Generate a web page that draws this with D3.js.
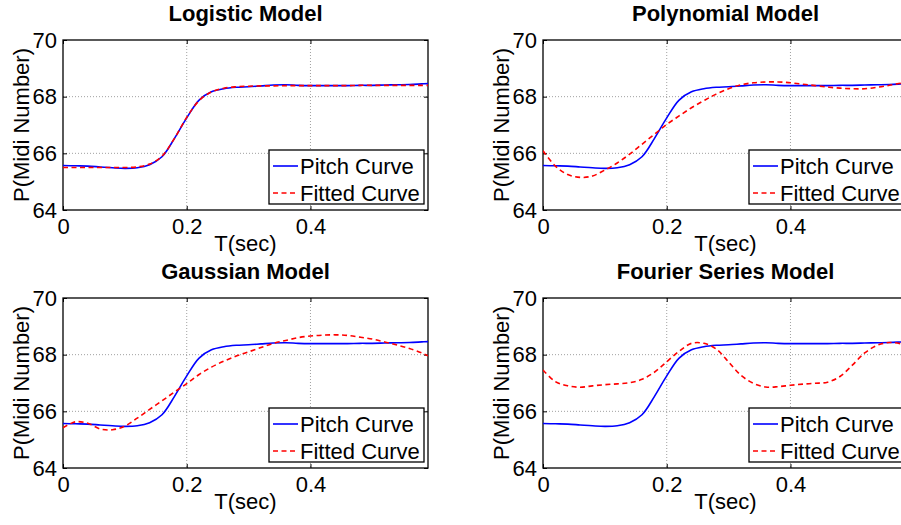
<!DOCTYPE html>
<html>
<head>
<meta charset="utf-8">
<script src="https://cdn.jsdelivr.net/npm/d3@7"></script>
<style>
  body { margin: 0; background: #fff; }
  svg text { font-family: "Liberation Sans", Arial, Helvetica, sans-serif; }
</style>
</head>
<body>
<div id="chart"></div>
<script>
// time samples (sec)
const times = [0, 0.02, 0.04, 0.06, 0.08, 0.10, 0.12, 0.14, 0.16, 0.18, 0.20, 0.22, 0.24, 0.26, 0.28,
  0.30, 0.32, 0.34, 0.36, 0.38, 0.40, 0.42, 0.44, 0.46, 0.48, 0.50, 0.52, 0.54, 0.56, 0.58, 0.59];

// measured pitch curve (midi number)
const pitch = [65.57, 65.56, 65.55, 65.52, 65.49, 65.47, 65.49, 65.60, 65.88, 66.52, 67.25, 67.88, 68.17, 68.28, 68.33,
  68.35, 68.38, 68.41, 68.42, 68.40, 68.39, 68.39, 68.39, 68.39, 68.40, 68.40, 68.41, 68.42, 68.43, 68.45, 68.46];

// fitted curves
const logisticFit = [65.50, 65.50, 65.50, 65.50, 65.50, 65.50, 65.52, 65.62, 65.90, 66.52, 67.27, 67.86, 68.17, 68.30, 68.35,
  68.37, 68.38, 68.38, 68.39, 68.39, 68.39, 68.39, 68.39, 68.39, 68.40, 68.40, 68.40, 68.40, 68.40, 68.40, 68.40];
const polyFit = [66.09, 65.55, 65.25, 65.15, 65.20, 65.41, 65.66, 65.97, 66.32, 66.67, 67.02, 67.32, 67.61, 67.86, 68.09,
  68.28, 68.42, 68.49, 68.52, 68.52, 68.49, 68.44, 68.39, 68.34, 68.30, 68.28, 68.28, 68.33, 68.40, 68.48, 68.50];
const gaussFit = [65.42, 65.63, 65.58, 65.38, 65.35, 65.48, 65.76, 66.07, 66.37, 66.68, 66.98, 67.30, 67.56, 67.77, 67.95,
  68.10, 68.25, 68.40, 68.50, 68.60, 68.66, 68.69, 68.70, 68.68, 68.62, 68.55, 68.45, 68.34, 68.22, 68.06, 67.96];
const fourierFit = [67.46, 67.05, 66.90, 66.85, 66.90, 66.94, 66.97, 67.01, 67.13, 67.38, 67.75, 68.12, 68.40, 68.40, 68.20,
  67.74, 67.27, 66.99, 66.86, 66.87, 66.92, 66.96, 66.99, 67.03, 67.23, 67.63, 68.06, 68.33, 68.43, 68.38, 68.33];

const titles = ["Logistic Model", "Polynomial Model", "Gaussian Model", "Fourier Series Model"];
const xTicks = [0, 0.2, 0.4];
const yTicks = [64, 66, 68, 70];
const legendLabels = ["Pitch Curve", "Fitted Curve"];

let width = 901, height = 525;
let pw = 365, ph = 170;

let svg = d3.select("#chart")
  .append("svg")
    .attr("width", width)
    .attr("height", height);

let panels = [
  { title: titles[0], fit: logisticFit, left: 63, top: 40 },
  { title: titles[1], fit: polyFit, left: 543, top: 40 },
  { title: titles[2], fit: gaussFit, left: 63, top: 298 },
  { title: titles[3], fit: fourierFit, left: 543, top: 298 }
];

let x = d3.scaleLinear().domain([0, 0.59]).range([0, pw]);
let y = d3.scaleLinear().domain([64, 70]).range([ph, 0]);

let line = d3.line()
  .x(d => x(d[0]))
  .y(d => y(d[1]))
  .curve(d3.curveCatmullRom);

panels.forEach((p, i) => {
  let g = svg.append("g")
    .attr("transform", "translate(" + p.left + "," + p.top + ")");

  g.append("clipPath").attr("id", "clip" + i)
    .append("rect").attr("width", pw).attr("height", ph);

  // dotted grid
  g.selectAll(".gx")
    .data(xTicks.filter(t => t > 0))
    .join("line")
      .attr("x1", d => x(d)).attr("x2", d => x(d))
      .attr("y1", 0).attr("y2", ph)
      .style("stroke", "#a0a0a0")
      .style("stroke-dasharray", "1,2");
  g.selectAll(".gy")
    .data(yTicks.filter(t => t > 64 && t < 70))
    .join("line")
      .attr("x1", 0).attr("x2", pw)
      .attr("y1", d => y(d)).attr("y2", d => y(d))
      .style("stroke", "#a0a0a0")
      .style("stroke-dasharray", "1,2");

  // axes, ticks inward on all sides
  g.append("g").attr("transform", "translate(0," + ph + ")")
    .call(d3.axisBottom(x).tickValues(xTicks).tickSizeInner(-4).tickSizeOuter(0).tickPadding(8).tickFormat(d3.format("~g")));
  g.append("g")
    .call(d3.axisTop(x).tickValues(xTicks).tickSizeInner(-4).tickSizeOuter(0).tickFormat(""));
  g.append("g")
    .call(d3.axisLeft(y).tickValues(yTicks).tickSizeInner(-4).tickSizeOuter(0).tickPadding(6).tickFormat(d3.format("d")));
  g.append("g").attr("transform", "translate(" + pw + ",0)")
    .call(d3.axisRight(y).tickValues(yTicks).tickSizeInner(-4).tickSizeOuter(0).tickFormat(""));
  g.selectAll(".domain").remove();
  g.selectAll(".tick line").style("stroke", "#000");
  g.selectAll(".tick text")
    .style("font-size", "22px")
    .style("fill", "#000");

  g.append("rect")
    .attr("width", pw).attr("height", ph)
    .style("fill", "none")
    .style("stroke", "#000")
    .style("stroke-width", 1.3);

  // curves
  let plot = g.append("g").attr("clip-path", "url(#clip" + i + ")");
  plot.append("path")
    .datum(times.map((t, k) => [t, pitch[k]]))
    .attr("d", line)
    .style("fill", "none")
    .style("stroke", "#0000ff")
    .style("stroke-width", 1.6);
  plot.append("path")
    .datum(times.map((t, k) => [t, p.fit[k]]))
    .attr("d", line)
    .style("fill", "none")
    .style("stroke", "#ff0000")
    .style("stroke-width", 1.6)
    .style("stroke-dasharray", "5,3.5");

  // titles and labels
  g.append("text")
    .attr("x", pw / 2).attr("y", -19)
    .attr("text-anchor", "middle")
    .style("font-size", "22px")
    .style("font-weight", "bold")
    .text(p.title);
  g.append("text")
    .attr("x", pw / 2).attr("y", ph + 41)
    .attr("text-anchor", "middle")
    .style("font-size", "22px")
    .text("T(sec)");
  g.append("text")
    .attr("transform", "translate(-34," + ph / 2 + ") rotate(-90)")
    .attr("text-anchor", "middle")
    .style("font-size", "22px")
    .text("P(Midi Number)");

  // legend
  let lg = g.append("g").attr("transform", "translate(206,110)");
  lg.append("rect")
    .attr("width", 155).attr("height", 54)
    .style("fill", "#fff")
    .style("stroke", "#000")
    .style("stroke-width", 1.3);
  let styles = [{ c: "#0000ff", d: null }, { c: "#ff0000", d: "5,3.5" }];
  legendLabels.forEach((lab, k) => {
    let cy = 16 + k * 27;
    lg.append("line")
      .attr("x1", 4).attr("x2", 29)
      .attr("y1", cy).attr("y2", cy)
      .style("stroke", styles[k].c)
      .style("stroke-width", 1.6)
      .style("stroke-dasharray", styles[k].d);
    lg.append("text")
      .attr("x", 31).attr("y", cy + 8)
      .style("font-size", "22px")
      .text(lab);
  });
});
</script>
</body>
</html>
